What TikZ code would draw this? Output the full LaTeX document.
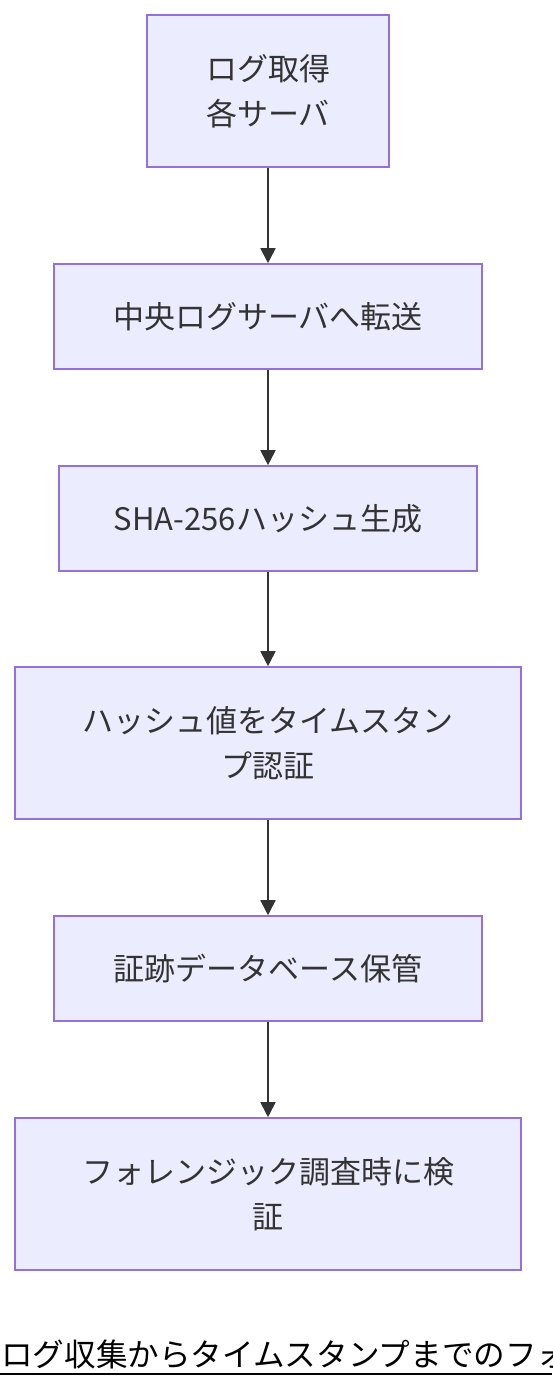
\documentclass[tikz,border=0pt]{standalone}
\usepackage{fontspec}
\setmainfont{Noto Sans CJK JP}
\usetikzlibrary{arrows.meta}
\definecolor{boxfill}{HTML}{ECECFF}
\definecolor{boxline}{HTML}{9370DB}
\definecolor{txt}{HTML}{333333}
\begin{document}
\begin{tikzpicture}[x=1pt,y=-1pt,
  stepbox/.style={draw=boxline,fill=boxfill,line width=1.6pt,inner sep=0pt,
    text=txt,align=center,font=\fontsize{31}{45}\selectfont},
  flow/.style={draw=txt,line width=1.8pt,-{Triangle[length=15pt,width=15pt]}}]
\useasboundingbox (0,0) rectangle (552,1388);
\clip (0,0) rectangle (552,1388);
\node[stepbox,minimum width=242pt,minimum height=152pt] (n1) at (268,91) {ログ取得\\各サーバ};
\node[stepbox,minimum width=428pt,minimum height=105pt] (n2) at (268,316.5) {中央ログサーバへ転送};
\node[stepbox,minimum width=418pt,minimum height=105pt] (n3) at (268,518.5) {SHA-256ハッシュ生成};
\node[stepbox,minimum width=506pt,minimum height=152pt] (n4) at (268,743) {ハッシュ値をタイムスタン\\プ認証};
\node[stepbox,minimum width=428pt,minimum height=105pt] (n5) at (268,968.5) {証跡データベース保管};
\node[stepbox,minimum width=506pt,minimum height=152pt] (n6) at (268,1194) {フォレンジック調査時に検\\証};
\draw[flow] (n1) -- (n2);
\draw[flow] (n2) -- (n3);
\draw[flow] (n3) -- (n4);
\draw[flow] (n4) -- (n5);
\draw[flow] (n5) -- (n6);
\node[anchor=base west,inner sep=0pt,font=\fontsize{31.6}{36}\selectfont,text=black] (cap) at (1,1366) {ログ収集からタイムスタンプまでのフォ};
\coordinate (ul) at (0,1374);
\coordinate (ur) at (552,1374);
\draw[line width=2pt,black] (ul) -- (ur);
\end{tikzpicture}
\end{document}
